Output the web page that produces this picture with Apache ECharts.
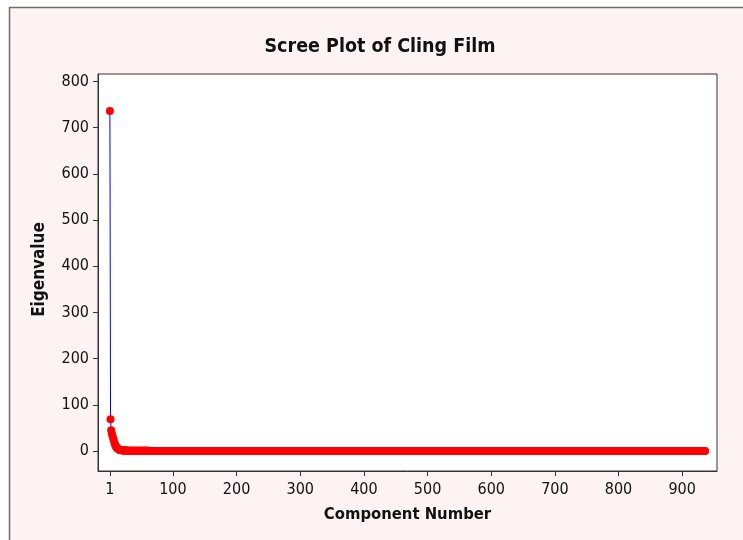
<!DOCTYPE html>
<html>
<head>
<meta charset="utf-8">
<script src="https://cdn.jsdelivr.net/npm/echarts@6/dist/echarts.min.js"></script>
<style>
  html, body { margin: 0; padding: 0; background: #ffffff; }
  #chart { width: 743px; height: 540px; }
</style>
</head>
<body>
<div id="chart"></div>
<script>
// Eigenvalues of the principal components, in order (component 1, 2, 3, ...)
const leadValues = [736, 68.5, 45, 38, 33, 28, 23, 18, 14, 11, 8.5, 6.5, 5.2, 4.2, 3.4, 2.8, 2.3, 1.9, 1.6, 1.4];
const midValues = [
  1.25,1.15,1.07,1.0,0.94,0.89,0.85,0.81,0.77,0.74,
  0.71,0.68,0.65,0.62,0.6,0.58,0.56,0.54,0.52,0.5,
  0.48,0.47,0.45,0.44,0.42,0.41,0.4,0.39,0.38,0.37,
  0.36,0.35,0.34,0.33,0.32,0.31,0.3,0.3,0.29,0.28,
  0.28,0.27,0.26,0.26,0.25,0.25,0.24,0.24,0.23,0.23,
  0.22,0.22,0.21,0.21,0.2,0.2,0.2,0.19,0.19,0.18,
  0.18,0.18,0.17,0.17,0.17,0.16,0.16,0.16,0.15,0.15,
  0.15,0.15,0.14,0.14,0.14,0.14,0.13,0.13,0.13,0.13
];
const tailValues = [
  0.1,0.1,0.1,0.1,0.1,0.1,0.1,0.1,0.1,0.1, 0.1,0.1,0.1,0.1,0.1,0.1,0.1,0.1,0.1,0.1, 0.1,0.1,0.1,0.1,0.1,0.1,0.1,0.1,0.1,0.1, 0.1,0.1,0.1,0.1,0.1,0.1,0.1,0.1,0.1,0.1, 0.1,0.1,0.1,0.1,0.1,0.1,0.1,0.1,0.1,0.1,
  0.09,0.09,0.09,0.09,0.09,0.09,0.09,0.09,0.09,0.09, 0.09,0.09,0.09,0.09,0.09,0.09,0.09,0.09,0.09,0.09, 0.09,0.09,0.09,0.09,0.09,0.09,0.09,0.09,0.09,0.09, 0.09,0.09,0.09,0.09,0.09,0.09,0.09,0.09,0.09,0.09, 0.09,0.09,0.09,0.09,0.09,0.09,0.09,0.09,0.09,0.09,
  0.08,0.08,0.08,0.08,0.08,0.08,0.08,0.08,0.08,0.08, 0.08,0.08,0.08,0.08,0.08,0.08,0.08,0.08,0.08,0.08, 0.08,0.08,0.08,0.08,0.08,0.08,0.08,0.08,0.08,0.08, 0.08,0.08,0.08,0.08,0.08,0.08,0.08,0.08,0.08,0.08, 0.08,0.08,0.08,0.08,0.08,0.08,0.08,0.08,0.08,0.08,
  0.07,0.07,0.07,0.07,0.07,0.07,0.07,0.07,0.07,0.07, 0.07,0.07,0.07,0.07,0.07,0.07,0.07,0.07,0.07,0.07, 0.07,0.07,0.07,0.07,0.07,0.07,0.07,0.07,0.07,0.07, 0.07,0.07,0.07,0.07,0.07,0.07,0.07,0.07,0.07,0.07, 0.07,0.07,0.07,0.07,0.07,0.07,0.07,0.07,0.07,0.07,
  0.06,0.06,0.06,0.06,0.06,0.06,0.06,0.06,0.06,0.06, 0.06,0.06,0.06,0.06,0.06,0.06,0.06,0.06,0.06,0.06, 0.06,0.06,0.06,0.06,0.06,0.06,0.06,0.06,0.06,0.06, 0.06,0.06,0.06,0.06,0.06,0.06,0.06,0.06,0.06,0.06, 0.06,0.06,0.06,0.06,0.06,0.06,0.06,0.06,0.06,0.06,
  0.05,0.05,0.05,0.05,0.05,0.05,0.05,0.05,0.05,0.05, 0.05,0.05,0.05,0.05,0.05,0.05,0.05,0.05,0.05,0.05, 0.05,0.05,0.05,0.05,0.05,0.05,0.05,0.05,0.05,0.05, 0.05,0.05,0.05,0.05,0.05,0.05,0.05,0.05,0.05,0.05, 0.05,0.05,0.05,0.05,0.05,0.05,0.05,0.05,0.05,0.05,
  0.04,0.04,0.04,0.04,0.04,0.04,0.04,0.04,0.04,0.04, 0.04,0.04,0.04,0.04,0.04,0.04,0.04,0.04,0.04,0.04, 0.04,0.04,0.04,0.04,0.04,0.04,0.04,0.04,0.04,0.04, 0.04,0.04,0.04,0.04,0.04,0.04,0.04,0.04,0.04,0.04, 0.04,0.04,0.04,0.04,0.04,0.04,0.04,0.04,0.04,0.04,
  0.04,0.04,0.04,0.04,0.04,0.04,0.04,0.04,0.04,0.04, 0.04,0.04,0.04,0.04,0.04,0.04,0.04,0.04,0.04,0.04, 0.04,0.04,0.04,0.04,0.04,0.04,0.04,0.04,0.04,0.04, 0.04,0.04,0.04,0.04,0.04,0.04,0.04,0.04,0.04,0.04, 0.04,0.04,0.04,0.04,0.04,0.04,0.04,0.04,0.04,0.04,
  0.03,0.03,0.03,0.03,0.03,0.03,0.03,0.03,0.03,0.03, 0.03,0.03,0.03,0.03,0.03,0.03,0.03,0.03,0.03,0.03, 0.03,0.03,0.03,0.03,0.03,0.03,0.03,0.03,0.03,0.03, 0.03,0.03,0.03,0.03,0.03,0.03,0.03,0.03,0.03,0.03, 0.03,0.03,0.03,0.03,0.03,0.03,0.03,0.03,0.03,0.03,
  0.03,0.03,0.03,0.03,0.03,0.03,0.03,0.03,0.03,0.03, 0.03,0.03,0.03,0.03,0.03,0.03,0.03,0.03,0.03,0.03, 0.03,0.03,0.03,0.03,0.03,0.03,0.03,0.03,0.03,0.03, 0.03,0.03,0.03,0.03,0.03,0.03,0.03,0.03,0.03,0.03, 0.03,0.03,0.03,0.03,0.03,0.03,0.03,0.03,0.03,0.03,
  0.02,0.02,0.02,0.02,0.02,0.02,0.02,0.02,0.02,0.02, 0.02,0.02,0.02,0.02,0.02,0.02,0.02,0.02,0.02,0.02, 0.02,0.02,0.02,0.02,0.02,0.02,0.02,0.02,0.02,0.02, 0.02,0.02,0.02,0.02,0.02,0.02,0.02,0.02,0.02,0.02, 0.02,0.02,0.02,0.02,0.02,0.02,0.02,0.02,0.02,0.02,
  0.02,0.02,0.02,0.02,0.02,0.02,0.02,0.02,0.02,0.02, 0.02,0.02,0.02,0.02,0.02,0.02,0.02,0.02,0.02,0.02, 0.02,0.02,0.02,0.02,0.02,0.02,0.02,0.02,0.02,0.02, 0.02,0.02,0.02,0.02,0.02,0.02,0.02,0.02,0.02,0.02, 0.02,0.02,0.02,0.02,0.02,0.02,0.02,0.02,0.02,0.02,
  0.01,0.01,0.01,0.01,0.01,0.01,0.01,0.01,0.01,0.01, 0.01,0.01,0.01,0.01,0.01,0.01,0.01,0.01,0.01,0.01, 0.01,0.01,0.01,0.01,0.01,0.01,0.01,0.01,0.01,0.01, 0.01,0.01,0.01,0.01,0.01,0.01,0.01,0.01,0.01,0.01, 0.01,0.01,0.01,0.01,0.01,0.01,0.01,0.01,0.01,0.01,
  0.01,0.01,0.01,0.01,0.01,0.01,0.01,0.01,0.01,0.01, 0.01,0.01,0.01,0.01,0.01,0.01,0.01,0.01,0.01,0.01, 0.01,0.01,0.01,0.01,0.01,0.01,0.01,0.01,0.01,0.01, 0.01,0.01,0.01,0.01,0.01,0.01,0.01,0.01,0.01,0.01, 0.01,0.01,0.01,0.01,0.01,0.01,0.01,0.01,0.01,0.01,
  0.01,0.01,0.01,0.01,0.01,0.01,0.01,0.01,0.01,0.01, 0.01,0.01,0.01,0.01,0.01,0.01,0.01,0.01,0.01,0.01, 0.01,0.01,0.01,0.01,0.01,0.01,0.01,0.01,0.01,0.01, 0.01,0.01,0.01,0.01,0.01,0.01,0.01,0.01,0.01,0.01, 0.01,0.01,0.01,0.01,0.01,0.01,0.01,0.01,0.01,0.01,
  0.005,0.005,0.005,0.005,0.005,0.005,0.005,0.005,0.005,0.005, 0.005,0.005,0.005,0.005,0.005,0.005,0.005,0.005,0.005,0.005, 0.005,0.005,0.005,0.005,0.005,0.005,0.005,0.005,0.005,0.005, 0.005,0.005,0.005,0.005,0.005,0.005,0.005,0.005,0.005,0.005, 0.005,0.005,0.005,0.005,0.005,0.005,0.005,0.005,0.005,0.005,
  0,0,0,0,0,0,0,0,0,0, 0,0,0,0,0,0,0,0,0,0, 0,0,0,0,0,0,0,0,0,0, 0,0,0,0,0,0
];
const xTickLabels = [1, 100, 200, 300, 400, 500, 600, 700, 800, 900];
const yTickLabels = [0, 100, 200, 300, 400, 500, 600, 700, 800];

const eigenvalues = leadValues.concat(midValues, tailValues);
// pair each eigenvalue with its component number (1-based)
const points = eigenvalues.map((v, i) => [i + 1, v]);

const FONT = '"DejaVu Sans Condensed", "DejaVu Sans", Tahoma, sans-serif';
const INK = '#111111';

const chart = echarts.init(document.getElementById('chart'), null, { renderer: 'canvas' });

chart.setOption({
  animation: false,
  backgroundColor: '#ffffff',
  graphic: [{
    type: 'rect',
    z: -10,
    silent: true,
    shape: { x: 9.5, y: 7.5, width: 760, height: 560 },
    style: { fill: '#fdf3f2', stroke: '#6e6e6e', lineWidth: 1.5 }
  }, {
    type: 'text',
    silent: true,
    x: 380,
    y: 47,
    style: {
      text: 'Scree Plot of Cling Film',
      fontFamily: FONT, fontSize: 19.5, fontWeight: 'bold',
      fill: INK, align: 'center', verticalAlign: 'middle'
    }
  }],
  grid: {
    left: 98, top: 74, right: 26, bottom: 69,
    show: true,
    backgroundColor: '#ffffff',
    borderColor: '#333333',
    borderWidth: 1
  },
  xAxis: {
    type: 'value',
    min: -17.7,
    max: 954.7,
    name: 'Component Number',
    nameLocation: 'middle',
    nameGap: 35,
    nameTextStyle: { fontFamily: FONT, fontSize: 16.5, fontWeight: 'bold', color: INK },
    axisLine: { show: true, onZero: false, lineStyle: { color: '#333333', width: 1 } },
    axisTick: { show: true, inside: false, length: 5, customValues: xTickLabels, lineStyle: { color: '#333333' } },
    axisLabel: { customValues: xTickLabels, margin: 11, fontFamily: FONT, fontSize: 16, color: INK },
    splitLine: { show: false }
  },
  yAxis: {
    type: 'value',
    min: -43.3,
    max: 816,
    name: 'Eigenvalue',
    nameLocation: 'middle',
    nameGap: 50,
    nameTextStyle: { fontFamily: FONT, fontSize: 17, fontWeight: 'bold', color: INK, padding: [0, 0, 0, 6] },
    axisLine: { show: true, onZero: false, lineStyle: { color: '#333333', width: 1 } },
    axisTick: { show: true, inside: false, length: 5, customValues: yTickLabels, lineStyle: { color: '#333333' } },
    axisLabel: { customValues: yTickLabels, margin: 9, fontFamily: FONT, fontSize: 16, color: INK },
    splitLine: { show: false }
  },
  series: [{
    type: 'line',
    data: points,
    symbol: 'circle',
    symbolSize: 8,
    showSymbol: true,
    showAllSymbol: true,
    sampling: null,
    lineStyle: { color: '#0000ff', width: 1 },
    itemStyle: { color: '#ff0000' },
    z: 3
  }]
});
</script>
</body>
</html>
